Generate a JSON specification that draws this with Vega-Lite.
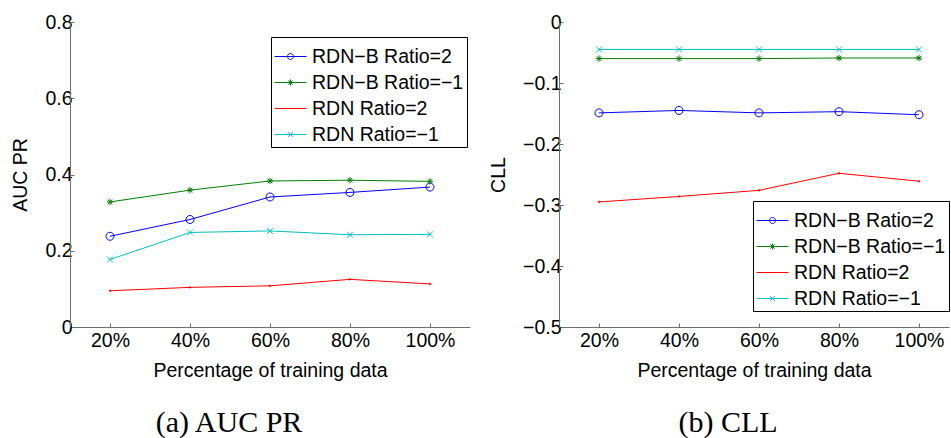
{
  "$schema": "https://vega.github.io/schema/vega-lite/v6.json",
  "padding": {"left": 10, "top": 12, "right": 0, "bottom": 0},
  "background": "white",
  "bounds": "flush",
  "spacing": 89,
  "resolve": {"scale": {"color": "independent", "x": "independent", "y": "independent"}, "legend": {"color": "independent"}},
  "config": {
    "view": {"stroke": null},
    "font": "Liberation Sans",
    "axis": {
      "grid": false,
      "domainColor": "#6e6e6e",
      "tickColor": "#6e6e6e",
      "tickSize": -4,
      "labelFont": "Liberation Sans",
      "labelFontSize": 19.5,
      "labelColor": "black",
      "titleFont": "Liberation Sans",
      "titleFontSize": 19.5,
      "titleFontWeight": "normal",
      "titleColor": "black"
    },
    "legend": {
      "labelFont": "Liberation Sans",
      "labelFontSize": 19.5,
      "labelColor": "black",
      "labelLimit": 400,
      "strokeColor": "black",
      "fillColor": "white",
      "padding": 3,
      "rowPadding": -5,
      "symbolSize": 1024,
      "symbolStrokeWidth": 1,
      "labelOffset": 5
    }
  },
  "datasets": {
    "auc": [
      {"series": "RDN−B Ratio=2", "pct": 20, "value": 0.238},
      {"series": "RDN−B Ratio=2", "pct": 40, "value": 0.282},
      {"series": "RDN−B Ratio=2", "pct": 60, "value": 0.341},
      {"series": "RDN−B Ratio=2", "pct": 80, "value": 0.353},
      {"series": "RDN−B Ratio=2", "pct": 100, "value": 0.367},
      {"series": "RDN−B Ratio=−1", "pct": 20, "value": 0.328},
      {"series": "RDN−B Ratio=−1", "pct": 40, "value": 0.359},
      {"series": "RDN−B Ratio=−1", "pct": 60, "value": 0.383},
      {"series": "RDN−B Ratio=−1", "pct": 80, "value": 0.385},
      {"series": "RDN−B Ratio=−1", "pct": 100, "value": 0.382},
      {"series": "RDN Ratio=2", "pct": 20, "value": 0.095},
      {"series": "RDN Ratio=2", "pct": 40, "value": 0.104},
      {"series": "RDN Ratio=2", "pct": 60, "value": 0.108},
      {"series": "RDN Ratio=2", "pct": 80, "value": 0.125},
      {"series": "RDN Ratio=2", "pct": 100, "value": 0.113},
      {"series": "RDN Ratio=−1", "pct": 20, "value": 0.177},
      {"series": "RDN Ratio=−1", "pct": 40, "value": 0.248},
      {"series": "RDN Ratio=−1", "pct": 60, "value": 0.252},
      {"series": "RDN Ratio=−1", "pct": 80, "value": 0.242},
      {"series": "RDN Ratio=−1", "pct": 100, "value": 0.243}
    ],
    "cll": [
      {"series": "RDN−B Ratio=2", "pct": 20, "value": -0.149},
      {"series": "RDN−B Ratio=2", "pct": 40, "value": -0.145},
      {"series": "RDN−B Ratio=2", "pct": 60, "value": -0.149},
      {"series": "RDN−B Ratio=2", "pct": 80, "value": -0.147},
      {"series": "RDN−B Ratio=2", "pct": 100, "value": -0.152},
      {"series": "RDN−B Ratio=−1", "pct": 20, "value": -0.060},
      {"series": "RDN−B Ratio=−1", "pct": 40, "value": -0.060},
      {"series": "RDN−B Ratio=−1", "pct": 60, "value": -0.060},
      {"series": "RDN−B Ratio=−1", "pct": 80, "value": -0.059},
      {"series": "RDN−B Ratio=−1", "pct": 100, "value": -0.059},
      {"series": "RDN Ratio=2", "pct": 20, "value": -0.295},
      {"series": "RDN Ratio=2", "pct": 40, "value": -0.286},
      {"series": "RDN Ratio=2", "pct": 60, "value": -0.276},
      {"series": "RDN Ratio=2", "pct": 80, "value": -0.248},
      {"series": "RDN Ratio=2", "pct": 100, "value": -0.261},
      {"series": "RDN Ratio=−1", "pct": 20, "value": -0.045},
      {"series": "RDN Ratio=−1", "pct": 40, "value": -0.045},
      {"series": "RDN Ratio=−1", "pct": 60, "value": -0.045},
      {"series": "RDN Ratio=−1", "pct": 80, "value": -0.045},
      {"series": "RDN Ratio=−1", "pct": 100, "value": -0.045}
    ]
  },
  "hconcat": [
    {
      "width": 400,
      "height": 305,
      "data": {"name": "auc"},
      "title": {"text": "(a) AUC PR", "orient": "bottom", "frame": "group", "anchor": "middle", "dx": -41, "offset": 28, "font": "Liberation Serif", "fontSize": 30, "fontWeight": "normal", "color": "black"},
      "encoding": {
        "x": {"field": "pct", "type": "quantitative", "scale": {"domain": [10, 110], "nice": false, "zero": false}, "axis": {"values": [20, 40, 60, 80, 100], "labelExpr": "datum.value + '%'", "title": "Percentage of training data", "labelPadding": 8, "titlePadding": 12}},
        "y": {"field": "value", "type": "quantitative", "scale": {"domain": [0, 0.8], "nice": false}, "axis": {"values": [0, 0.2, 0.4, 0.6, 0.8], "labelExpr": "datum.value == 0 ? '0' : format(datum.value, '.1f')", "title": "AUC PR", "labelPadding": 2, "titlePadding": 14}},
        "color": {
          "field": "series", "type": "nominal",
          "scale": {"domain": ["RDN−B Ratio=2", "RDN−B Ratio=−1", "RDN Ratio=2", "RDN Ratio=−1"], "range": ["#0000ff", "#008000", "#ff0000", "#00bfbf"]},
          "legend": {"title": null, "orient": "none", "legendX": 201, "legendY": 15,
            "encode": {"symbols": {"update": {"fill": {"value": "transparent"}, "strokeWidth": {"value": 1}, "opacity": {"value": 1}, "shape": {"signal": "datum.value === 'RDN−B Ratio=2' ? 'M-1,0H1M0.1875,0A0.1875,0.1875,0,1,1,-0.1875,0A0.1875,0.1875,0,1,1,0.1875,0' : datum.value === 'RDN−B Ratio=−1' ? 'M-1,0H1M-0.19,0H0.19M0,-0.19V0.19M-0.13,-0.13L0.13,0.13M-0.13,0.13L0.13,-0.13' : datum.value === 'RDN Ratio=−1' ? 'M-1,0H1M-0.15,-0.15L0.15,0.15M-0.15,0.15L0.15,-0.15' : 'M-1,0H1'"}}}}
          }
        }
      },
      "layer": [
        {"mark": {"type": "line", "strokeWidth": 1}},
        {"transform": [{"filter": "datum.series === 'RDN−B Ratio=2'"}], "mark": {"type": "point", "filled": false, "strokeWidth": 1, "size": 64, "opacity": 1, "shape": "M1,0A1,1,0,1,1,-1,0A1,1,0,1,1,1,0"}},
        {"transform": [{"filter": "datum.series === 'RDN−B Ratio=−1'"}], "mark": {"type": "point", "filled": false, "strokeWidth": 1, "size": 64, "opacity": 1, "shape": "M-0.8,0H0.8M0,-0.8V0.8M-0.57,-0.57L0.57,0.57M-0.57,0.57L0.57,-0.57"}},
        {"transform": [{"filter": "datum.series === 'RDN Ratio=2'"}], "mark": {"type": "point", "filled": false, "strokeWidth": 1, "size": 64, "opacity": 1, "shape": "M-0.3,0H0.3M0,-0.3V0.3"}},
        {"transform": [{"filter": "datum.series === 'RDN Ratio=−1'"}], "mark": {"type": "point", "filled": false, "strokeWidth": 1, "size": 64, "opacity": 1, "shape": "M-0.75,-0.75L0.75,0.75M-0.75,0.75L0.75,-0.75"}}
      ]
    },
    {
      "width": 390,
      "height": 305,
      "data": {"name": "cll"},
      "title": {"text": "(b) CLL", "orient": "bottom", "frame": "group", "anchor": "middle", "dx": -26, "offset": 28, "font": "Liberation Serif", "fontSize": 30, "fontWeight": "normal", "color": "black"},
      "encoding": {
        "x": {"field": "pct", "type": "quantitative", "scale": {"domain": [10, 107.5], "nice": false, "zero": false}, "axis": {"values": [20, 40, 60, 80, 100], "labelExpr": "datum.value + '%'", "title": "Percentage of training data", "labelPadding": 8, "titlePadding": 12}},
        "y": {"field": "value", "type": "quantitative", "scale": {"domain": [-0.5, 0], "nice": false}, "axis": {"values": [0, -0.1, -0.2, -0.3, -0.4, -0.5], "labelExpr": "datum.value == 0 ? '0' : format(datum.value, '.1f')", "title": "CLL", "labelPadding": 2, "titlePadding": 14}},
        "color": {
          "field": "series", "type": "nominal",
          "scale": {"domain": ["RDN−B Ratio=2", "RDN−B Ratio=−1", "RDN Ratio=2", "RDN Ratio=−1"], "range": ["#0000ff", "#008000", "#ff0000", "#00bfbf"]},
          "legend": {"title": null, "orient": "none", "legendX": 194, "legendY": 179,
            "encode": {"symbols": {"update": {"fill": {"value": "transparent"}, "strokeWidth": {"value": 1}, "opacity": {"value": 1}, "shape": {"signal": "datum.value === 'RDN−B Ratio=2' ? 'M-1,0H1M0.1875,0A0.1875,0.1875,0,1,1,-0.1875,0A0.1875,0.1875,0,1,1,0.1875,0' : datum.value === 'RDN−B Ratio=−1' ? 'M-1,0H1M-0.19,0H0.19M0,-0.19V0.19M-0.13,-0.13L0.13,0.13M-0.13,0.13L0.13,-0.13' : datum.value === 'RDN Ratio=−1' ? 'M-1,0H1M-0.15,-0.15L0.15,0.15M-0.15,0.15L0.15,-0.15' : 'M-1,0H1'"}}}}
          }
        }
      },
      "layer": [
        {"mark": {"type": "line", "strokeWidth": 1}},
        {"transform": [{"filter": "datum.series === 'RDN−B Ratio=2'"}], "mark": {"type": "point", "filled": false, "strokeWidth": 1, "size": 64, "opacity": 1, "shape": "M1,0A1,1,0,1,1,-1,0A1,1,0,1,1,1,0"}},
        {"transform": [{"filter": "datum.series === 'RDN−B Ratio=−1'"}], "mark": {"type": "point", "filled": false, "strokeWidth": 1, "size": 64, "opacity": 1, "shape": "M-0.8,0H0.8M0,-0.8V0.8M-0.57,-0.57L0.57,0.57M-0.57,0.57L0.57,-0.57"}},
        {"transform": [{"filter": "datum.series === 'RDN Ratio=2'"}], "mark": {"type": "point", "filled": false, "strokeWidth": 1, "size": 64, "opacity": 1, "shape": "M-0.3,0H0.3M0,-0.3V0.3"}},
        {"transform": [{"filter": "datum.series === 'RDN Ratio=−1'"}], "mark": {"type": "point", "filled": false, "strokeWidth": 1, "size": 64, "opacity": 1, "shape": "M-0.75,-0.75L0.75,0.75M-0.75,0.75L0.75,-0.75"}}
      ]
    }
  ]
}
